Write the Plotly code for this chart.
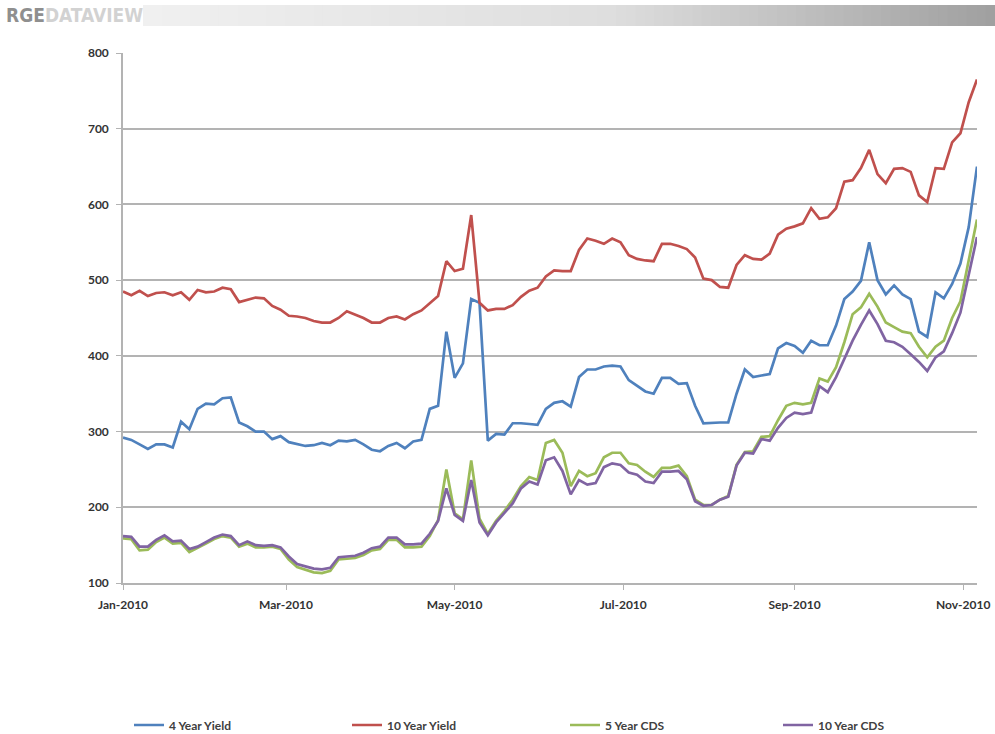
import pandas as pd
import plotly.graph_objects as go

# Observation dates (every third day, Jan 1 - Nov 6, 2010)
dates = pd.date_range("2010-01-01", periods=104, freq="3D")

yield_4y = [
    292, 289, 283, 277, 283, 283, 279, 313, 303, 330, 337, 336, 344, 345, 312, 307, 300, 300, 290, 294, 286, 283, 281, 282, 285, 282,
    288, 287, 289, 283, 276, 274, 281, 285, 278, 287, 289, 330, 334, 432, 371, 390, 475, 470, 288, 297, 296, 311, 311, 310, 309,
    330, 338, 340, 333, 372, 382, 382, 386, 387, 386, 368, 361, 353, 350, 371, 371, 363, 364, 334, 311, 312, 312, 312, 350, 382,
    372, 374, 376, 410, 417, 413, 404, 420, 414, 414, 440, 475, 485, 499, 550, 500, 481, 493, 481, 475, 432, 425, 484, 476, 495, 522, 570, 650,
]

yield_10y = [
    485, 480, 486, 479, 483, 484, 480, 484, 474, 487, 484, 485, 490, 488, 471, 474, 477, 476, 466, 461, 453, 452, 450, 446, 444, 444,
    450, 459, 455, 450, 444, 444, 450, 452, 448, 455, 460, 470, 479, 525, 512, 515, 586, 470, 460, 462, 462, 467, 478, 486, 490,
    505, 513, 512, 512, 540, 555, 552, 548, 555, 550, 533, 528, 526, 525, 548, 548, 545, 541, 530, 502, 500, 491, 490, 520, 533,
    528, 527, 535, 560, 568, 571, 575, 595, 581, 583, 595, 630, 632, 648, 672, 640, 628, 647, 648, 643, 612, 603, 648, 647, 682, 694, 735, 765,
]

cds_5y = [
    159, 158, 143, 144, 154, 160, 152, 153, 141, 146, 152, 158, 162, 160, 148, 152, 147, 147, 148, 145, 131, 121, 118, 114, 113, 116,
    131, 132, 133, 137, 143, 145, 157, 157, 147, 147, 148, 162, 183, 250, 192, 184, 262, 185, 165, 182, 195, 210, 228, 240, 236,
    285, 289, 272, 228, 248, 241, 245, 266, 272, 272, 258, 256, 247, 240, 252, 252, 255, 241, 210, 203, 203, 210, 215, 256, 273,
    274, 293, 294, 315, 334, 338, 336, 338, 370, 366, 385, 418, 455, 464, 482, 465, 444, 438, 432, 430, 412, 398, 412, 420, 450, 472, 525, 580,
]

cds_10y = [
    162, 161, 148, 148, 157, 163, 155, 156, 145, 148, 154, 160, 164, 162, 150, 155, 150, 149, 150, 147, 135, 125, 122, 119, 118, 120,
    134, 135, 136, 140, 146, 148, 160, 160, 151, 151, 152, 165, 182, 225, 190, 182, 236, 180, 163, 180, 193, 205, 225, 234, 230,
    262, 266, 248, 217, 236, 230, 232, 253, 258, 256, 246, 243, 234, 232, 247, 247, 248, 237, 208, 202, 203, 210, 214, 255, 272,
    271, 290, 288, 305, 318, 325, 323, 325, 360, 352, 372, 397, 420, 441, 460, 442, 420, 418, 412, 402, 392, 380, 398, 406, 430, 457, 505, 557,
]

series_names = ["4 Year Yield", "10 Year Yield", "5 Year CDS", "10 Year CDS"]
series_colors = ["#4F81BD", "#C0504D", "#9BBB59", "#8064A2"]

tick_dates = ["2010-01-01", "2010-03-01", "2010-05-01", "2010-07-01", "2010-09-01", "2010-11-01"]
tick_labels = ["Jan-2010", "Mar-2010", "May-2010", "Jul-2010", "Sep-2010", "Nov-2010"]
y_ticks = [100, 200, 300, 400, 500, 600, 700, 800]

LABEL_FONT = "Lato, 'Open Sans', Arial, sans-serif"
GRID = "#b3b3b3"

W_PLOT = 995 - 123 - 18
H_PLOT = 734 - 53 - 151


def px_to_paper_x(px):
    return (px - 123) / W_PLOT


def px_to_paper_y(py):
    return (583 - py) / H_PLOT


# one legend box per series, spread along the bottom
legend_ids = ["legend", "legend2", "legend3", "legend4"]
legend_left_px = [129, 347, 565, 778]

fig = go.Figure()
for name, vals, col, lid in zip(series_names, [yield_4y, yield_10y, cds_5y, cds_10y], series_colors, legend_ids):
    fig.add_trace(go.Scatter(
        x=dates, y=vals, name=name, mode="lines",
        line=dict(color=col, width=2.7),
        legend=lid,
    ))

legend_layout = {}
for lid, lx in zip(legend_ids, legend_left_px):
    legend_layout[lid] = dict(
        orientation="h", x=px_to_paper_x(lx), y=px_to_paper_y(725),
        xanchor="left", yanchor="middle", itemwidth=30,
        font=dict(family=LABEL_FONT, size=12, color="#404040", weight="bold"),
        bgcolor="rgba(0,0,0,0)",
    )

# Banner across the top: logo text plus a grey gradient strip
shapes = []
n_steps = 90
x0_px, x1_px = 143, 995
for i in range(n_steps):
    t = i / (n_steps - 1)
    if t < 0.55:
        g = 240 - (240 - 222) * (t / 0.55)
    else:
        g = 222 - (222 - 160) * ((t - 0.55) / 0.45)
    g = int(round(g))
    xa = x0_px + (x1_px - x0_px) * i / n_steps
    xb = x0_px + (x1_px - x0_px) * (i + 1) / n_steps + 0.8
    shapes.append(dict(
        type="rect", xref="paper", yref="paper",
        x0=px_to_paper_x(xa), x1=px_to_paper_x(xb),
        y0=px_to_paper_y(26), y1=px_to_paper_y(5),
        fillcolor=f"rgb({g},{g},{g})", line=dict(width=0), layer="below",
    ))

fig.update_layout(
    width=995, height=734,
    margin=dict(l=123, r=18, t=53, b=151, autoexpand=False),
    paper_bgcolor="white", plot_bgcolor="white",
    shapes=shapes,
    showlegend=True,
    annotations=[dict(
        xref="paper", yref="paper",
        x=px_to_paper_x(4), y=px_to_paper_y(15),
        xanchor="left", yanchor="middle", showarrow=False,
        text="<b><span style='color:#8f8f8f'>RGE</span><span style='color:#d2d2d2'>DATAVIEW</span></b>",
        font=dict(family="'Liberation Sans Narrow', 'DejaVu Sans Condensed', 'Arial Narrow', Roboto, sans-serif", size=19),
    )],
    **legend_layout,
)

fig.update_xaxes(
    type="date",
    range=["2010-01-01", "2010-11-06"],
    tickvals=tick_dates, ticktext=tick_labels,
    ticks="outside", ticklen=5, tickcolor=GRID, tickwidth=1.2,
    ticklabelstandoff=5,
    showline=True, linecolor=GRID, linewidth=1.5,
    showgrid=False, zeroline=False,
    tickfont=dict(family=LABEL_FONT, size=12, color="#333333", weight="bold"),
)
fig.update_yaxes(
    range=[100, 800],
    tickvals=y_ticks,
    ticks="outside", ticklen=5, tickcolor=GRID, tickwidth=1.2,
    ticklabelstandoff=5,
    showline=True, linecolor=GRID, linewidth=1.5,
    showgrid=True, gridcolor=GRID, gridwidth=1.5,
    zeroline=False,
    tickfont=dict(family=LABEL_FONT, size=12, color="#333333", weight="bold"),
)

fig.write_html("out.html")
